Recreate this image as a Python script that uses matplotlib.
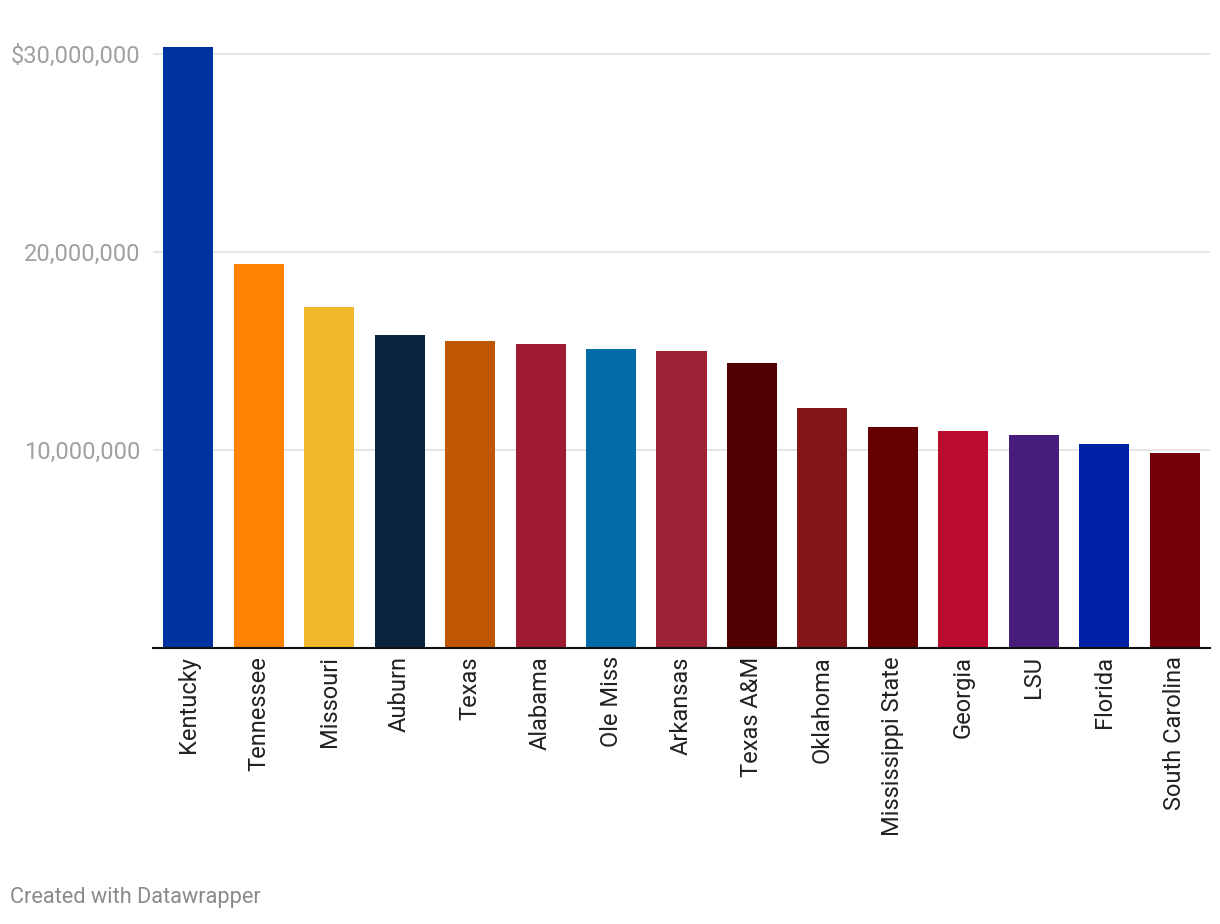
import matplotlib
matplotlib.use("Agg")
import matplotlib.pyplot as plt

# Data
schools = ["Kentucky", "Tennessee", "Missouri", "Auburn", "Texas", "Alabama",
           "Ole Miss", "Arkansas", "Texas A&M", "Oklahoma", "Mississippi State",
           "Georgia", "LSU", "Florida", "South Carolina"]
values = [30.35e6, 19.37e6, 17.2e6, 15.78e6, 15.48e6, 15.33e6, 15.12e6, 15.02e6,
          14.37e6, 12.14e6, 11.18e6, 10.98e6, 10.77e6, 10.32e6, 9.86e6]
colors = ["#0033A0", "#FF8200", "#F1B82D", "#0C2340", "#BF5700", "#9E1B32",
          "#006BA6", "#9D2235", "#500000", "#841617", "#660000", "#BA0C2F",
          "#461D7C", "#0021A5", "#73000A"]
yticks = [10e6, 20e6, 30e6]
ytick_labels = ["10,000,000", "20,000,000", "$30,000,000"]

plt.rcParams["font.family"] = ["Roboto", "DejaVu Sans"]

W, H = 1220, 924
fig = plt.figure(figsize=(W / 100, H / 100), dpi=100)
ax = fig.add_axes([153 / W, (H - 648) / H, (1210 - 153) / W, (648 - 34) / H])

x = range(len(schools))
ax.bar(x, values, width=0.71, color=colors, zorder=2)

ax.set_xlim(-0.5, len(schools) - 0.5)
ax.set_ylim(0, 31e6)
ax.set_yticks(yticks)
ax.set_yticklabels(ytick_labels, fontsize=17, color="#a0a0a0")
ax.tick_params(axis="y", length=0, pad=9)
ax.grid(axis="y", color="#e3e3e3", linewidth=1.3, zorder=0)

ax.set_xticks(list(x))
ax.set_xticklabels(schools, rotation=90, fontsize=17, color="#222222",
                   ha="center", va="top")
ax.tick_params(axis="x", length=0, pad=6)

for side in ["top", "right", "left"]:
    ax.spines[side].set_visible(False)
ax.spines["bottom"].set_color("#111111")
ax.spines["bottom"].set_linewidth(1.5)
ax.spines["bottom"].set_zorder(3)

fig.text(10 / W, 1 - 898 / H, "Created with Datawrapper", fontsize=15.7,
         color="#8a8a8a", ha="left", va="center")

fig.savefig("out.png", dpi=100)
